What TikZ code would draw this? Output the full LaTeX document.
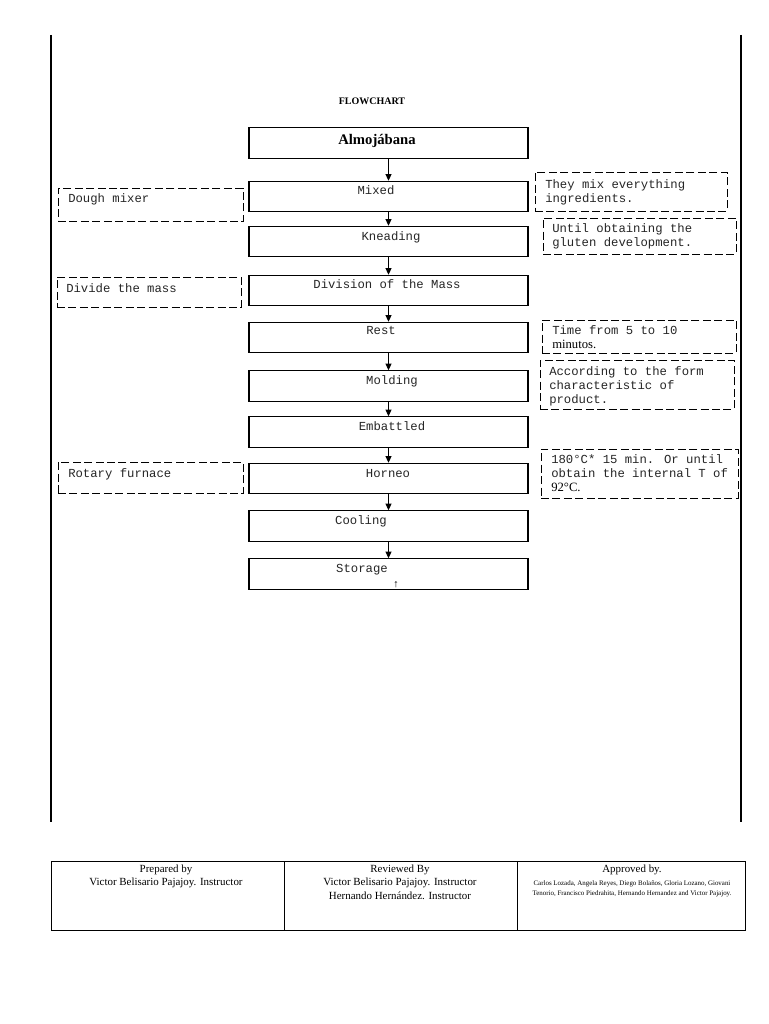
\documentclass[tikz,border=0pt]{standalone}
\usepackage{fontspec}
\setmainfont{Liberation Serif}
\newfontfamily\monof{Liberation Mono}
\usetikzlibrary{arrows.meta}
\begin{document}
\begin{tikzpicture}[x=0.75pt,y=-0.75pt,
  mainbox/.style={draw,line width=0.8pt,inner sep=0pt,minimum width=209.25pt,minimum height=22.8pt},
  notebox/.style={draw,line width=0.7pt,dash pattern=on 6pt off 2.6pt,inner sep=0pt},
  monotext/.style={font=\monof\fontsize{9.2}{10.5}\selectfont,inner sep=0pt,text=black!85},
  notetext/.style={monotext,align=left,anchor=north west},
  flow/.style={line width=0.7pt,-{Triangle[length=5pt,width=4.5pt]}},
  foot/.style={font=\fontsize{8.2}{10.2}\selectfont,align=center,anchor=north,inner sep=0pt},
  rule/.style={line width=1.1pt}
]
\useasboundingbox (0,0) rectangle (768,1024);
\fill[white] (0,0) rectangle (768,1024);

% page rules
\coordinate (lt) at (51,35); \coordinate (lb) at (51,822);
\coordinate (rt) at (741,35); \coordinate (rb) at (741,822);
\draw[rule] (lt) -- (lb);
\draw[rule] (rt) -- (rb);

% title
\node[font=\bfseries\fontsize{7.5}{9}\selectfont] (title) at (372,101) {FLOWCHART};

% main boxes
\node[mainbox] (alm) at (388.5,143) {};
\node[mainbox] (mix) at (388.5,196.5) {};
\node[mainbox] (knead) at (388.5,241.5) {};
\node[mainbox] (div) at (388.5,290.5) {};
\node[mainbox] (rest) at (388.5,337.5) {};
\node[mainbox] (mold) at (388.5,386) {};
\node[mainbox] (emb) at (388.5,432) {};
\node[mainbox] (horn) at (388.5,478.5) {};
\node[mainbox] (cool) at (388.5,526) {};
\node[mainbox] (stor) at (388.5,574) {};

% main texts
\node[font=\bfseries\fontsize{11}{12}\selectfont,anchor=mid] (almt) at (377,141) {Almojábana};
\node[monotext,anchor=mid] (mixt) at (376,191) {Mixed};
\node[monotext,anchor=mid] (kneadt) at (391,237) {Kneading};
\node[monotext,anchor=mid] (divt) at (387,285) {Division of the Mass};
\node[monotext,anchor=mid] (restt) at (381,331) {Rest};
\node[monotext,anchor=mid] (moldt) at (392,381) {Molding};
\node[monotext,anchor=mid] (embt) at (392,427) {Embattled};
\node[monotext,anchor=mid] (hornt) at (388,474) {Horneo};
\node[monotext,anchor=mid] (coolt) at (361,521) {Cooling};
\node[monotext,anchor=mid] (stort) at (362,569) {Storage};
\node[font=\fontsize{8}{9}\selectfont,inner sep=0pt] (uparrow) at (396,585) {↑};

% connectors
\draw[flow] (alm) -- (mix);
\draw[flow] (mix) -- (knead);
\draw[flow] (knead) -- (div);
\draw[flow] (div) -- (rest);
\draw[flow] (rest) -- (mold);
\draw[flow] (mold) -- (emb);
\draw[flow] (emb) -- (horn);
\draw[flow] (horn) -- (cool);
\draw[flow] (cool) -- (stor);

% left dashed boxes
\node[notebox,minimum width=138.75pt,minimum height=24.75pt] (dough) at (150.5,204.5) {};
\node[notetext,anchor=mid west] (dought) at (68,199) {Dough mixer};
\node[notebox,minimum width=138pt,minimum height=22.5pt] (divide) at (149,292) {};
\node[notetext,anchor=mid west] (dividet) at (66,289) {Divide the mass};
\node[notebox,minimum width=138.75pt,minimum height=23.25pt] (rotary) at (150.5,477.5) {};
\node[notetext,anchor=mid west] (rotaryt) at (68,474) {Rotary furnace};

% right dashed boxes
\node[notebox,minimum width=144pt,minimum height=29.25pt] (they) at (631,191.5) {};
\node[notetext] (theyt) at (545,179) {They mix everything\\ingredients.};
\node[notebox,minimum width=144.75pt,minimum height=27pt] (until) at (639.5,236) {};
\node[notetext] (untilt) at (552,223) {Until obtaining the\\gluten development.};
\node[notebox,minimum width=145.5pt,minimum height=24.75pt] (time) at (639,336.5) {};
\node[notetext] (timet) at (552,325) {Time from 5 to 10\\{\rmfamily\color{black}\fontsize{9.5}{10.5}\selectfont minutos.}};
\node[notebox,minimum width=145.5pt,minimum height=36.75pt] (acc) at (637,384.5) {};
\node[notetext] (acct) at (549,366) {According to the form\\characteristic of\\product.};
\node[notebox,minimum width=147.75pt,minimum height=36.75pt] (temp) at (639.5,473.5) {};
\node[notetext] (tempt) at (551,454) {180°C* 15 min. Or until\\obtain the internal T of\\{\rmfamily\color{black}\fontsize{9.5}{10.5}\selectfont 92°C.}};

% footer table
\node[draw,line width=0.6pt,inner sep=0pt,minimum width=520.5pt,minimum height=51.75pt] (table) at (398,895.5) {};
\coordinate (d1t) at (284,861); \coordinate (d1b) at (284,930);
\coordinate (d2t) at (517,861); \coordinate (d2b) at (517,930);
\draw[line width=0.6pt] (d1t) -- (d1b);
\draw[line width=0.6pt] (d2t) -- (d2b);
\node[foot] (prep) at (166,864.5) {Prepared by\\Victor Belisario Pajajoy. Instructor};
\node[foot] (rev) at (400,864.5) {Reviewed By\\Victor Belisario Pajajoy. Instructor\\Hernando Hernández. Instructor};
\node[foot] (appr) at (632,864.5) {Approved by.};
\node[font=\fontsize{5.2}{7.6}\selectfont,align=center,anchor=north,inner sep=0pt] (names) at (632,880.5) {Carlos Lozada, Angela Reyes, Diego Bolaños, Gloria Lozano, Giovani\\Tenorio, Francisco Piedrahita, Hernando Hernandez and Victor Pajajoy.};
\end{tikzpicture}
\end{document}
